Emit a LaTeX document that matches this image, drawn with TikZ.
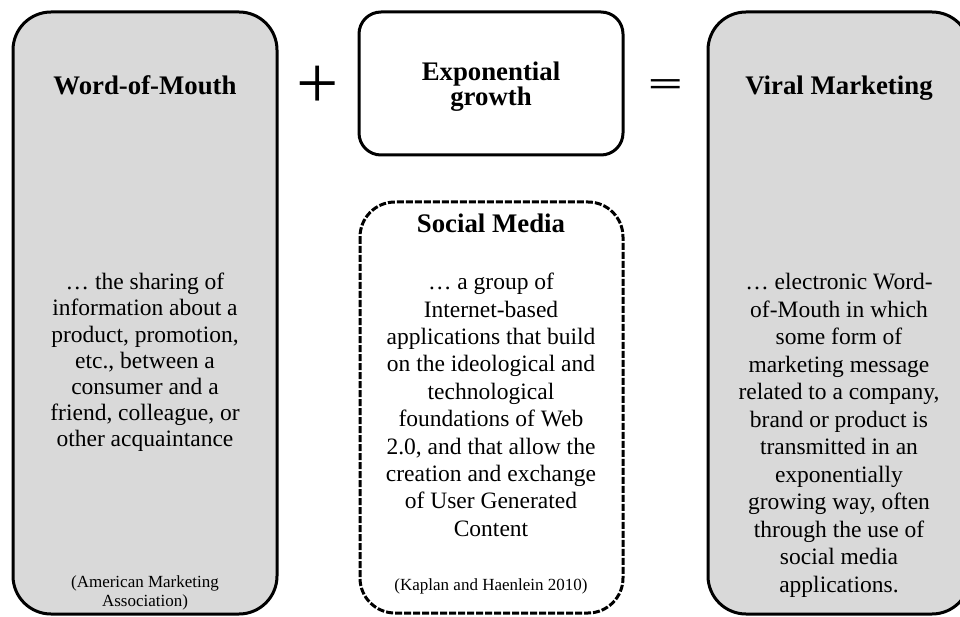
\documentclass[tikz,border=0pt]{standalone}
\usepackage{fontspec}
\setmainfont{Liberation Serif}
\definecolor{boxgray}{HTML}{D9D9D9}
\begin{document}
\begin{tikzpicture}[x=1pt,y=-1pt,
  panel/.style={draw=black, line width=3pt},
  title/.style={font=\bfseries\fontsize{26.8}{25}\selectfont, inner sep=0pt, align=center},
  body/.style={font=\fontsize{23.5}{27}\selectfont, inner sep=0pt, align=center, anchor=north},
  cite/.style={font=\fontsize{17}{19}\selectfont, inner sep=0pt, align=center, anchor=north},
  sym/.style={inner sep=0pt}]
\clip (0,0) rectangle (960,617);
\fill[white] (0,0) rectangle (960,617);
% panels
\draw[panel, fill=boxgray, rounded corners=38pt] (13,12) rectangle (277,614);
\draw[panel, fill=white, rounded corners=22pt] (359,12) rectangle (623,155);
\draw[panel, fill=white, rounded corners=35pt, dash pattern=on 7pt off 2pt] (360,202) rectangle (623,613);
\draw[panel, fill=boxgray, rounded corners=38pt] (708,12) rectangle (970,614);
% operators
\node[sym, font=\fontsize{75}{75}\selectfont] (plus) at (318,87) {+};
\node[sym, font=\bfseries\fontsize{62}{62}\selectfont, yscale=0.55, transform shape] (eq) at (665.5,88) {=};
% titles
\node[title, anchor=base] (wom) at (145,95) {Word-of-Mouth};
\node[title, anchor=north] (exp) at (491,62) {Exponential\\growth};
\node[title, anchor=base] (vm) at (839,95) {Viral Marketing};
\node[title, anchor=base] (sm) at (491,233) {Social Media};
% bodies
\node[body, font=\fontsize{23.5}{26.2}\selectfont] (womtext) at (145,273) {\dots{} the sharing of\\information about a\\product, promotion,\\etc., between a\\consumer and a\\friend, colleague, or\\other acquaintance};
\node[body, font=\fontsize{23.5}{27.4}\selectfont] (smtext) at (491,273) {\dots{} a group of\\Internet-based\\applications that build\\on the ideological and\\technological\\foundations of Web\\2.0, and that allow the\\creation and exchange\\of User Generated\\Content};
\node[body, font=\fontsize{23.5}{27.5}\selectfont] (vmtext) at (839,273) {\dots{} electronic Word-\\of-Mouth in which\\some form of\\marketing message\\related to a company,\\brand or product is\\transmitted in an\\exponentially\\growing way, often\\through the use of\\social media\\applications.};
% citations
\node[cite] (womcite) at (145,576) {(American Marketing\\Association)};
\node[cite] (smcite) at (491,578) {(Kaplan and Haenlein 2010)};
\end{tikzpicture}
\end{document}
